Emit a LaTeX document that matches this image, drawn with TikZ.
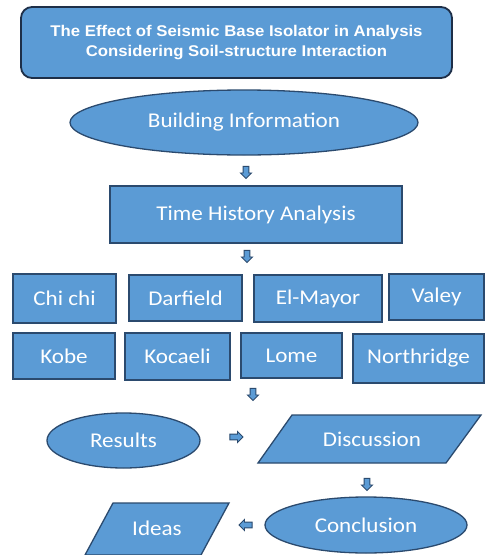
\documentclass[tikz,border=0pt]{standalone}
\usepackage{fontspec}
\setmainfont{Carlito}[FakeStretch=1.1]
\newfontfamily\titlefont{Liberation Sans}[FakeStretch=1.08]
\usetikzlibrary{shapes.geometric,shapes.arrows}
\definecolor{boxblue}{HTML}{5B9BD5}
\definecolor{boxline}{HTML}{2B4A6E}
\definecolor{titleline}{HTML}{1E2F48}
\begin{document}
\begin{tikzpicture}[x=1pt,y=-1pt,
  base/.style={draw=boxline, line width=1.3pt, fill=boxblue, text=white, inner sep=0pt,
    font=\fontsize{21}{24}\selectfont},
  rbox/.style n args={2}{base, rectangle, minimum width=#1, minimum height=#2},
  ebox/.style n args={2}{base, ellipse, minimum width=#1, minimum height=#2},
  pgram/.style={draw=boxline, line width=1.3pt, fill=boxblue},
  ptext/.style={text=white, inner sep=0pt, font=\fontsize{21}{24}\selectfont},
  blockarrow/.style={single arrow, draw=boxline, fill=boxblue, line width=0.9pt,
    minimum height=12pt, single arrow head extend=2.6pt, inner sep=2.4pt},
  darrow/.style={blockarrow, shape border rotate=270},
  rarrow/.style={blockarrow, shape border rotate=0, minimum height=13pt},
  larrow/.style={blockarrow, shape border rotate=180, minimum height=13pt}
]
\fill[white] (0,0) rectangle (485,555);
\useasboundingbox (0,0) rectangle (485,555);
\begin{scope}
\clip (0,0) rectangle (485,555);
% title
\node[draw=titleline, line width=1.8pt, fill=boxblue, rounded corners=11pt,
  minimum width=431pt, minimum height=71pt, inner sep=0pt, text=white, align=center,
  font=\titlefont\bfseries\fontsize{15.5}{20.5}\selectfont] (title) at (236.5,42.5)
  {The Effect of Seismic Base Isolator in Analysis\\Considering Soil-structure Interaction};
% building information
\node[ebox={348pt}{65pt}] (bi) at (244,122.5) {Building Information};
\node[darrow] (a1) at (246,171) {};
% time history
\node[rbox={292pt}{57pt}] (tha) at (256,214.5) {Time History Analysis};
\node[darrow] (a2) at (247,255) {};
% earthquakes row 1
\node[rbox={103pt}{49pt}] (chichi) at (64.5,298.5) {Chi chi};
\node[rbox={113pt}{46pt}] (darf) at (185.5,298) {Darfield};
\node[rbox={128pt}{47pt}] (elm) at (318,298.5) {El-Mayor};
\node[rbox={95pt}{46pt}] (valey) at (436.5,297) {Valey};
% row 2
\node[rbox={102pt}{46pt}] (kobe) at (64,356) {Kobe};
\node[rbox={105pt}{47pt}] (koca) at (177.5,356.5) {Kocaeli};
\node[rbox={101pt}{45pt}] (lome) at (291.5,355.5) {Lome};
\node[rbox={131pt}{49pt}] (north) at (418.5,358.5) {Northridge};
\node[darrow] (a3) at (253,393) {};
% results
\node[ebox={153pt}{55pt}] (res) at (123.5,440.5) {Results};
\node[rarrow] (a4) at (235,437) {};
% discussion
\coordinate (d1) at (258,463);
\coordinate (d2) at (446,463);
\coordinate (d3) at (481,415);
\coordinate (d4) at (292,415);
\draw[pgram] (d1) -- (d2) -- (d3) -- (d4) -- cycle;
\node[ptext] (disc) at (372,439) {Discussion};
\node[darrow] (a5) at (367,483) {};
% conclusion
\node[ebox={202pt}{56pt}] (conc) at (366,525) {Conclusion};
\node[larrow] (a6) at (247,525) {};
% ideas
\coordinate (i1) at (85,555);
\coordinate (i2) at (201,555);
\coordinate (i3) at (229,503);
\coordinate (i4) at (113,503);
\draw[pgram] (i1) -- (i2) -- (i3) -- (i4) -- cycle;
\node[ptext] (ideas) at (157,528) {Ideas};
\end{scope}
\end{tikzpicture}
\end{document}
